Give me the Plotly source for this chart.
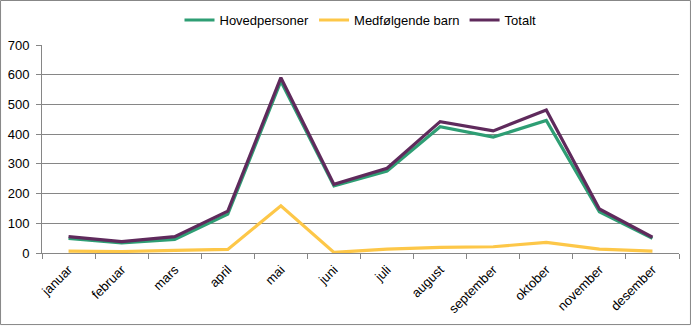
import plotly.graph_objects as go

months = ["januar", "februar", "mars", "april", "mai", "juni", "juli",
          "august", "september", "oktober", "november", "desember"]
hovedpersoner = [49, 34, 46, 131, 578, 226, 276, 425, 390, 446, 139, 49]
medfolgende_barn = [6, 5, 9, 12, 159, 2, 13, 19, 21, 36, 13, 6]
totalt = [55, 38, 55, 141, 590, 231, 285, 442, 411, 481, 148, 53]

series = [
    ("Hovedpersoner", hovedpersoner, "#2E9E74"),
    ("Medfølgende barn", medfolgende_barn, "#FDC748"),
    ("Totalt", totalt, "#5F2A5C"),
]

fig = go.Figure()
for name, values, color in series:
    fig.add_trace(go.Scatter(
        x=months, y=values, name=name, mode="lines",
        line=dict(color=color, width=3.2),
    ))

font = dict(family="Liberation Sans, Arial, sans-serif", size=13, color="#000000")
axis_gray = "#868686"

fig.update_layout(
    width=694, height=326,
    margin=dict(l=42, r=15, t=45, b=73, autoexpand=False),
    paper_bgcolor="white", plot_bgcolor="white",
    font=font,
    showlegend=True,
    legend=dict(orientation="h", x=0.5, xanchor="center", y=1.12, yanchor="middle",
                font=font, tracegroupgap=0,
                bgcolor="rgba(0,0,0,0)"),
    xaxis=dict(
        type="category", range=[-0.5, len(months) - 0.5],
        tickangle=-45, tickson="boundaries",
        ticks="outside", ticklen=5, tickcolor=axis_gray,
        showline=True, linecolor=axis_gray, linewidth=1,
        showgrid=False, tickfont=font, automargin=False,
        ticklabelstandoff=3,
    ),
    yaxis=dict(
        range=[0, 700], dtick=100, ticks="outside", ticklen=5,
        tickcolor=axis_gray, showline=True, linecolor=axis_gray, linewidth=1,
        showgrid=True, gridcolor=axis_gray, gridwidth=1, zeroline=False,
        tickfont=font, automargin=False, ticklabelstandoff=4,
    ),
    shapes=[dict(
        type="rect", xref="paper", yref="paper",
        x0=-0.0651, x1=1.018, y0=-0.344, y1=1.214,
        line=dict(color=axis_gray, width=1), fillcolor="rgba(0,0,0,0)",
        layer="below",
    )],
)

fig.write_html("out.html")
